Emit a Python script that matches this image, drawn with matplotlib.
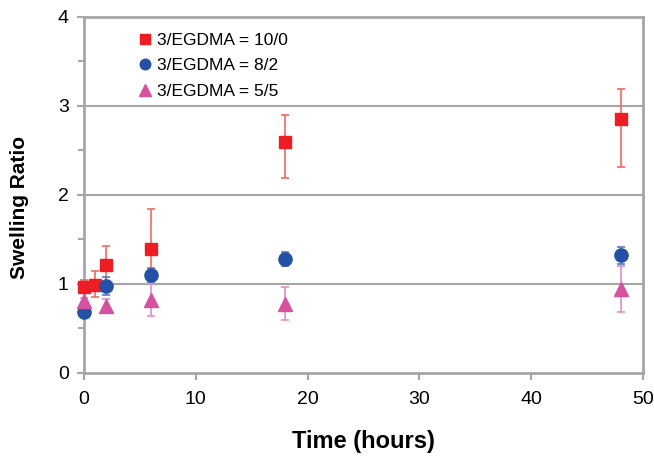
import matplotlib.pyplot as plt
import numpy as np
from matplotlib.ticker import MultipleLocator

plt.rcParams['font.family'] = ['Liberation Sans', 'DejaVu Sans']

# Swelling ratio data
t_a = [0, 1, 2, 6, 18, 48]
y_a = [0.97, 0.99, 1.21, 1.39, 2.60, 2.85]
lo_a = [0.07, 0.14, 0.22, 0.30, 0.41, 0.54]
hi_a = [0.07, 0.16, 0.22, 0.45, 0.30, 0.34]

t_b = [0, 2, 6, 18, 48]
y_b = [0.68, 0.98, 1.10, 1.28, 1.32]
err_b = [0.02, 0.10, 0.08, 0.08, 0.10]

t_c = [0, 2, 6, 18, 48]
y_c = [0.81, 0.75, 0.82, 0.78, 0.94]
err_c = [0.03, 0.08, 0.18, 0.19, 0.26]

labels = ['3/EGDMA = 10/0', '3/EGDMA = 8/2', '3/EGDMA = 5/5']

fig = plt.figure(figsize=(6.54, 4.58), dpi=100)
ax = fig.add_axes([0.1284, 0.1856, 0.8546, 0.7774])

grey = '#A6A6A6'
ax.set_xlim(0, 50)
ax.set_ylim(0, 4)
ax.yaxis.set_major_locator(MultipleLocator(1))
ax.yaxis.set_minor_locator(MultipleLocator(0.5))
ax.xaxis.set_major_locator(MultipleLocator(10))
for y in [1, 2, 3]:
    ax.axhline(y, color=grey, lw=1.5, zorder=0)

for s in ax.spines.values():
    s.set_color(grey)
    s.set_linewidth(2)

ax.tick_params(axis='both', which='both', color=grey, width=1.5, direction='out', labelsize=14, pad=6)
ax.tick_params(axis='y', which='major', length=5)
ax.tick_params(axis='y', which='minor', length=4)
ax.tick_params(axis='x', which='major', length=5, pad=8)

ax.errorbar(t_a, y_a, yerr=[lo_a, hi_a], fmt='s', color='#EE1D23', ecolor='#F26A5E',
            elinewidth=1.2, capsize=3, capthick=1.2, markersize=9, label=labels[0],
            clip_on=False, zorder=3)
ax.errorbar(t_b, y_b, yerr=err_b, fmt='o', color='#2450A6', ecolor='#5C76C2',
            elinewidth=1.2, capsize=3, capthick=1.2, markersize=9.5, label=labels[1],
            clip_on=False, zorder=4)
ax.errorbar(t_c, y_c, yerr=err_c, fmt='^', color='#D6519F', ecolor='#E58CC2',
            elinewidth=1.2, capsize=3, capthick=1.2, markersize=10, label=labels[2],
            clip_on=False, zorder=5)

handles, labs = ax.get_legend_handles_labels()
handles = [h[0] for h in handles]
ax.legend(handles, labs, loc='upper left', bbox_to_anchor=(0.07, 1.0), frameon=False,
          fontsize=12.5, handlelength=0.7, handletextpad=0.35, labelspacing=0.6,
          markerscale=0.8)

ax.set_xlabel('Time (hours)', fontsize=17, fontweight='bold', labelpad=16)
ax.set_ylabel('Swelling Ratio', fontsize=15, fontweight='bold')
ax.yaxis.set_label_coords(-0.098, 0.464)

fig.savefig('out.png', dpi=100)
